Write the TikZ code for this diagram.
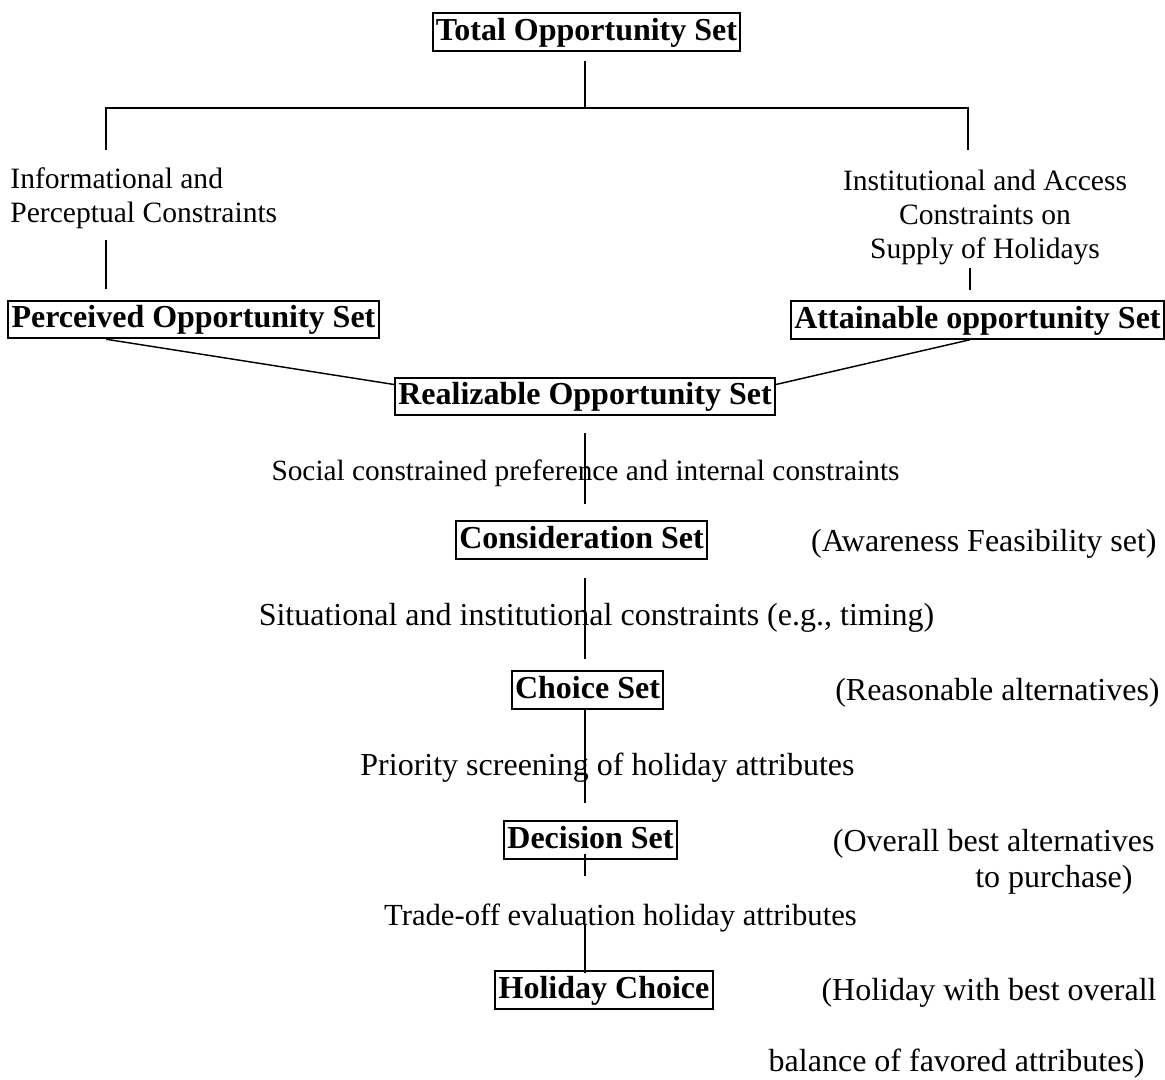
\documentclass[tikz,border=0pt]{standalone}
\usepackage{fontspec}
\setmainfont{Liberation Serif}
\usetikzlibrary{calc}

\newcommand{\setfont}{\fontsize{14.4}{17}\selectfont\bfseries}
\newcommand{\remarkfont}[1][14.4]{\fontsize{#1}{15.3}\selectfont}

\begin{document}
\begin{tikzpicture}[x=0.45pt,y=-0.45pt,
    setbox/.style={draw,line width=0.85pt,inner xsep=1.5pt,inner ysep=1.6pt,text height=10.5pt,text depth=3.2pt,font=\setfont},
    remark/.style={inner sep=0pt,text height=9.8pt,text depth=2.8pt,font=\remarkfont},
    remarks/.style={inner sep=0pt,font={\remarkfont[13.3]}},
    link/.style={line width=0.65pt}]
    \useasboundingbox (0,0) rectangle (1165,1080);
    \coordinate (axis) at (585,0);

    % the sets
    \node[setbox] (total) at (586.5,32) {Total Opportunity Set};
    \node[setbox] (perc) at (193.5,319.5) {Perceived Opportunity Set};
    \node[setbox] (attn) at (977.5,320) {Attainable opportunity Set};
    \node[setbox] (real) at (585,396.5) {Realizable Opportunity Set};
    \node[setbox] (cons) at (581.5,540) {Consideration Set};
    \node[setbox] (choice) at (587.5,690) {Choice Set};
    \node[setbox] (dec) at (590.5,840) {Decision Set};
    \node[setbox] (hol) at (604,990) {Holiday Choice};

    % constraints between the sets
    \node[remarks,align=left,anchor=north west] (info) at (10,167) {Informational and\\Perceptual Constraints};
    \node[remarks,align=center,anchor=north] (inst) at (985,170) {Institutional and Access\\Constraints on\\Supply of Holidays};
    \node[remark,anchor=base,font={\remarkfont[13.2]}] (social) at (585.5,480) {Social constrained preference and internal constraints};
    \node[remark,anchor=base] (situ) at (596.5,625) {Situational and institutional constraints (e.g., timing)};
    \node[remark,anchor=base] (prio) at (607.5,775) {Priority screening of holiday attributes};
    \node[remark,anchor=base,font={\remarkfont[13.8]}] (trade) at (620.5,925) {Trade-off evaluation holiday attributes};

    % what each set holds
    \node[remark,anchor=base east] (aware) at (1157,551) {(Awareness Feasibility set)};
    \node[remark,anchor=base east] (reason) at (1160,700) {(Reasonable alternatives)};
    \node[remark,anchor=base east] (best) at (1155,851) {(Overall best alternatives};
    \node[remark,anchor=base east] (purch) at (1133,887) {to purchase)};
    \node[remark,anchor=base east] (holbest) at (1157,1000) {(Holiday with best overall};
    \node[remark,anchor=base east] (balance) at (1145,1071) {balance of favored attributes)};

    \coordinate (split) at (585,108);
    \coordinate (lsplit) at (106,108);
    \coordinate (rsplit) at (968,108);
    \coordinate (lstub) at (106,150);
    \coordinate (rstub) at (968,150);
    \coordinate (ltop) at (106,240);
    \coordinate (rtop) at (970,268);

    \draw[link,shorten <=4pt] (total.south -| split) -- (split);
    \draw[link] (lstub) -- (lsplit) -- (rsplit) -- (rstub);
    \draw[link,shorten >=5pt] (ltop) -- (perc.north -| ltop);
    \draw[link,shorten >=4.5pt] (rtop) -- (attn.north -| rtop);
    \draw[link] (perc.south -| ltop) -- ($(real.west)+(0,-12)$);
    \draw[link] (attn.south -| rtop) -- ($(real.east)+(0,-12)$);
    \draw[link,shorten <=7.6pt,shorten >=7.2pt] (real.south -| axis) -- (cons.north -| axis);
    \draw[link,shorten <=8pt,shorten >=5pt] (cons.south -| axis) -- (choice.north -| axis);
    \draw[link,shorten >=8pt] (choice.south -| axis) -- (dec.north -| axis);
    \draw[link,shorten <=-2.7pt,shorten >=12pt] (dec.south -| axis) -- (trade.north -| axis);
    \draw[link,shorten >=-1pt] (trade.base -| axis) -- (hol.north -| axis);
\end{tikzpicture}
\end{document}
